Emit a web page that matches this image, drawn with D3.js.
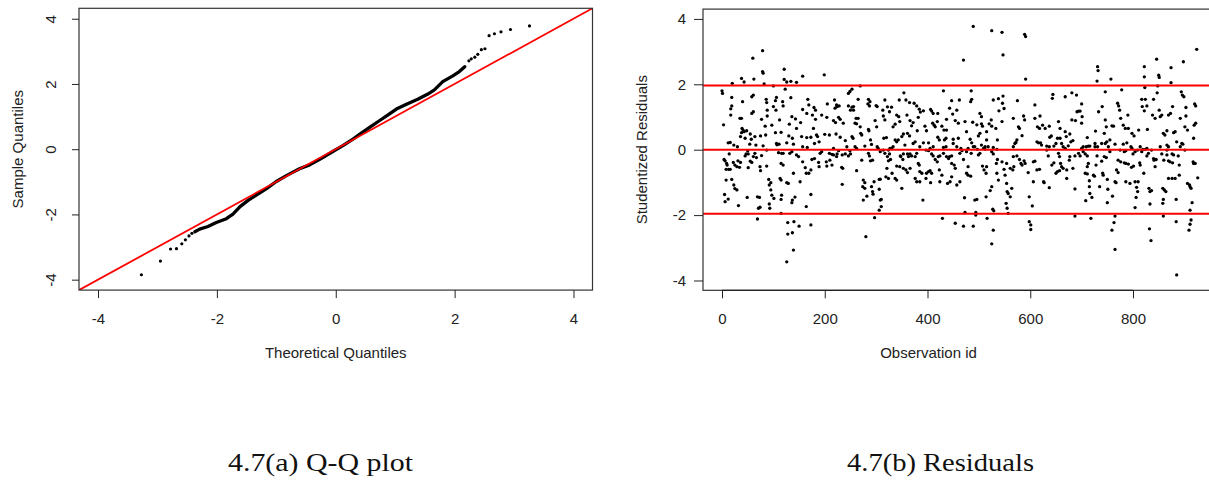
<!DOCTYPE html>
<html>
<head>
<meta charset="utf-8">
<script src="https://cdn.jsdelivr.net/npm/d3@7"></script>
<style>
  body { margin: 0; background: #fff; }
  svg text { font-family: "Liberation Sans", Arial, sans-serif; fill: #222; }
  svg text.caption { font-family: "Liberation Serif", "Times New Roman", serif; fill: #111; }
</style>
</head>
<body>
<div id="chart"></div>
<script>
// ---- Q-Q plot: [theoretical quantile, sample quantile] ----
// dense middle of the curve (read as a path through the dots)
const qqBody = [
  [-2.37, -2.53], [-2.29, -2.45], [-2.15, -2.37], [-2.01, -2.25], [-1.84, -2.13],
  [-1.73, -1.99], [-1.61, -1.76], [-1.47, -1.56], [-1.31, -1.38], [-1.16, -1.20],
  [-1.00, -0.99], [-0.83, -0.81], [-0.61, -0.60], [-0.44, -0.48], [-0.27, -0.31],
  [-0.05, -0.07], [0.12, 0.11], [0.29, 0.31], [0.43, 0.49], [0.57, 0.67],
  [0.74, 0.88], [0.88, 1.05], [1.02, 1.23], [1.19, 1.38], [1.38, 1.53],
  [1.55, 1.69], [1.66, 1.82], [1.80, 2.07], [1.97, 2.25], [2.08, 2.38], [2.17, 2.53]
];
// sparse tails, one dot each
const qqLowTail = [
  [-3.27, -3.85], [-2.95, -3.43], [-2.78, -3.06], [-2.68, -3.05],
  [-2.59, -2.90], [-2.53, -2.78], [-2.47, -2.66], [-2.42, -2.58]
];
const qqHighTail = [
  [2.24, 2.71], [2.28, 2.77], [2.34, 2.82], [2.39, 2.91], [2.45, 3.05], [2.51, 3.08],
  [2.58, 3.48], [2.67, 3.54], [2.78, 3.60], [2.94, 3.67], [3.26, 3.78]
];
const qqLine = { intercept: 0, slope: 1 };
const qqTicks = [-4, -2, 0, 2, 4];

// ---- Residuals: [observation id, studentized residual] ----
const residualsA = [
  [79,3.03],[60,2.80],[79,2.39],[80,2.34],[38,2.18],[62,2.16],[121,2.46],[121,2.15],[157,2.25],[20,2.03],
  [43,2.07],[82,2.01],[100,1.95],[126,2.07],[134,2.09],[145,2.06],[123,1.85],[0,1.80],[1,1.72],[19,1.60],
  [61,1.67],[58,1.62],[106,1.60],[104,1.50],[40,1.47],[86,1.54],[118,1.47],[134,1.59],[167,1.54],[179,1.29],
  [182,1.21],[87,1.44],[100,1.32],[19,1.34],[17,1.25],[35,0.96],[38,0.96],[58,1.11],[61,1.16],[88,1.21],
  [105,1.21],[157,1.23],[169,1.37],[176,1.06],[3,0.76],[17,1.06],[77,0.93],[88,1.03],[112,0.91],[119,1.34],
  [131,0.78],[143,0.94],[153,0.83],[97,0.75],[84,0.72],[178,0.65],[184,0.45],[186,0.40],[39,0.65],[41,0.60],
  [43,0.55],[38,0.52],[48,0.58],[55,0.48],[36,0.40],[45,0.35],[57,0.32],[64,0.40],[75,0.42],[85,0.45],
  [104,0.52],[115,0.53],[145,0.65],[155,0.40],[165,0.37],[173,0.38],[12,0.21],[16,0.22],[23,0.14],[30,0.09],
  [54,0.17],[66,0.14],[106,0.19],[107,0.15],[126,0.21],[139,0.17],[157,0.09],[166,0.07],[180,0.19],[189,0.24],
  [14,-0.13],[4,-0.30],[6,-0.34],[9,-0.42],[10,-0.47],[8,-0.60],[13,-0.60],[16,-0.60],[22,-0.39],[25,-0.47],
  [29,-0.52],[31,-0.34],[34,-0.54],[45,-0.19],[47,-0.13],[51,-0.13],[51,-0.55],[64,-0.11],[67,-0.24],[75,-0.64],
  [74,-0.52],[87,-0.50],[91,-0.91],[95,-1.01],[92,-1.08],[95,-1.23],[97,-1.39],[101,-1.49],[110,-0.09],[116,-0.11],
  [119,-0.11],[115,-0.42],[119,-0.47],[113,-0.88],[115,-0.93],[126,-1.01],[129,-1.03],[132,-0.11],[136,-0.06],[139,-0.72],
  [145,-0.16],[149,-0.21],[157,-0.37],[162,-0.55],[164,-0.72],[169,-0.72],[173,-0.62],[175,-0.30],[180,-0.27],[188,-0.39],
  [189,-0.52],[152,-0.98],[8,-0.93],[19,-0.91],[23,-1.08],[29,-1.23],[25,-1.19],[5,-1.37],[6,-1.59],[12,-1.51],
  [32,-1.71],[49,-1.46],[69,-1.44],[73,-1.46],[71,-1.79],[74,-1.76],[69,-2.12],[92,-1.66],[93,-1.79],[116,-1.39],
  [115,-1.52],[136,-1.62],[137,-1.54],[142,-1.45],[164,-1.74],[173,-1.37],[115,-1.95],[128,-2.23],[140,-2.20],[150,-2.34],
  [173,-2.30],[128,-2.58],[137,-2.54],[139,-3.07],[126,-3.43],[55,-0.35],[58,-0.39],[61,-0.21],[87,-0.01],[77,-0.18],
  [36,-0.39],[50,-0.03],[80,0.12],[111,0.17],[130,0.42],[137,0.35],[136,1.01],[165,1.11],[182,0.93]
];
const residualsB = [
  [199,2.29],[269,1.95],[253,1.85],[249,1.78],[246,1.72],[489,3.77],[525,3.64],[470,2.74],[431,1.80],[485,1.80],
  [354,1.74],[365,1.44],[447,1.50],[486,1.54],[484,1.47],[528,1.52],[538,1.56],[205,1.40],[219,1.52],[223,1.37],
  [228,1.34],[220,1.27],[224,1.32],[246,1.34],[253,1.30],[256,1.32],[250,1.21],[256,1.21],[265,1.54],[285,1.54],
  [288,1.47],[284,1.40],[287,1.34],[300,1.35],[302,1.32],[330,1.30],[384,1.24],[392,1.19],[408,1.18],[420,1.11],
  [449,1.09],[502,1.11],[505,1.01],[524,0.91],[539,1.19],[194,1.06],[204,0.99],[227,0.99],[230,0.93],[217,0.89],
  [221,0.83],[236,0.81],[261,0.96],[265,0.96],[259,0.81],[262,0.79],[269,0.70],[270,0.50],[272,0.45],[285,0.62],
  [286,0.58],[298,0.89],[301,0.70],[314,1.03],[317,0.91],[333,0.70],[337,0.78],[344,1.01],[346,0.86],[369,0.73],
  [372,0.83],[380,0.58],[382,0.99],[398,0.58],[410,0.81],[413,0.75],[415,0.70],[432,0.60],[437,0.60],[454,0.89],
  [460,0.81],[488,0.84],[505,0.79],[507,0.72],[520,0.79],[525,0.72],[533,0.65],[200,0.47],[209,0.45],[222,0.48],
  [230,0.38],[240,0.28],[253,0.40],[255,0.35],[289,0.30],[291,0.16],[315,0.35],[320,0.37],[337,0.30],[340,0.24],
  [343,0.30],[350,0.40],[353,0.48],[361,0.50],[365,0.42],[372,0.19],[376,0.24],[392,0.21],[402,0.21],[420,0.38],
  [423,0.30],[433,0.30],[436,0.35],[450,0.32],[460,0.35],[483,0.32],[486,0.21],[499,0.42],[502,0.50],[512,0.09],
  [515,0.30],[528,0.07],[536,0.30],[194,-0.06],[191,-0.11],[209,-0.11],[214,-0.14],[217,-0.16],[203,-0.37],[210,-0.32],
  [214,-0.47],[204,-0.50],[223,-0.21],[224,-0.13],[234,-0.16],[240,-0.13],[246,-0.19],[250,-0.13],[233,-0.54],[235,-0.57],
  [234,-1.06],[249,-0.03],[262,-0.64],[272,-0.32],[275,-0.93],[278,-1.01],[274,-1.13],[278,-1.18],[275,-1.54],[282,-1.42],
  [280,-2.66],[289,-0.34],[293,-0.32],[291,-1.13],[293,-1.28],[294,-1.36],[296,-0.98],[306,-0.91],[308,-0.90],[306,-1.21],
  [308,-1.54],[310,-1.52],[306,-1.85],[310,-1.74],[297,-2.08],[314,-0.01],[317,-0.11],[322,-0.21],[326,-0.13],[324,-0.34],
  [328,-0.30],[319,-0.83],[324,-0.88],[337,-0.88],[340,-0.93],[340,-0.50],[350,-1.18],[348,-0.21],[352,-0.30],[353,-0.57],
  [358,-0.62],[361,-0.70],[366,-0.13],[369,-0.19],[376,-0.88],[379,-0.98],[382,-0.42],[384,-0.47],[385,-0.67],[389,-0.72],
  [391,-1.54],[398,-0.72],[402,-0.67],[405,-0.64],[397,-0.88],[406,-1.01],[408,-0.13],[411,-0.19],[415,-0.30],[419,-0.37],
  [423,-0.62],[428,-0.78],[429,-2.10],[437,-0.21],[441,-0.27],[439,-1.03],[444,-0.98],[447,-0.42],[452,-0.47],[454,-0.57],
  [454,-2.25],[457,-1.08],[463,-0.11],[467,-0.03],[470,-0.30],[472,-1.47],[473,-1.92],[476,-0.72],[479,-0.78],[484,-0.81],
  [470,-2.34],[489,-2.34],[492,-1.54],[496,-1.52],[494,-1.92],[494,-2.00],[499,-0.16],[502,-0.11],[507,-0.50],[510,-0.62],
  [514,-0.72],[514,-1.44],[516,-2.10],[522,-1.25],[525,-1.13],[527,-1.82],[529,-1.87],[528,-2.46],[525,-2.88],[534,-0.42],
  [536,-0.30],[538,-0.93],[217,0.04],[227,-0.03],[243,0.09],[259,0.09],[262,0.04],[278,0.11],[285,-0.11],[287,-0.19],
  [302,0.09],[304,0.04],[324,-0.01],[327,0.04],[333,0.09],[347,-0.19],[353,-0.13],[361,-0.13],[363,-0.21],[376,-0.21],
  [385,0.09],[397,-0.01],[402,-0.03],[411,0.09],[421,-0.21],[424,-0.19],[431,0.07],[436,0.09],[443,-0.21],[447,-0.19],
  [457,0.09],[465,0.04],[479,0.04],[485,-0.11],[489,0.09],[492,0.09],[497,0.01],[509,0.04],[512,0.01],[518,0.09],
  [525,-0.06],[528,-0.13],[535,0.01],
  [317,1.52],[322,1.31],[313,1.21],[326,1.16],[340,1.06],[345,1.52],[358,1.52],[360,1.06],[366,0.89],[374,1.42],
  [379,1.34],[386,1.15],[395,0.72],[406,1.23],[411,1.11],[419,0.86],[428,0.72],[437,0.93],[443,1.27],[457,1.21],
  [462,1.52],[473,0.86],[476,0.55],[496,0.76],[515,0.55],[321,-0.57],[331,-0.72],[346,-0.52],[366,-0.57],[385,-0.98],
  [408,-0.72],[424,-0.98],[447,-0.83],[463,-0.98],[479,-0.52],[515,-0.52],[535,-0.72],[308,-0.06],[330,0.04],[356,0.14],
  [379,-0.11],[405,0.04],[431,-0.11],[450,0.19],[476,-0.06],[505,0.14]
];
const residualsC = [
  [545,3.59],[547,2.90],[589,3.53],[591,3.46],[591,2.16],[731,2.54],[732,2.42],[730,2.10],[757,2.16],[822,2.54],
  [822,2.23],[846,2.77],[874,2.51],[874,2.05],[898,2.69],[924,3.07],[850,2.28],[851,2.21],[848,1.95],[847,1.74],
  [823,1.90],[817,1.54],[824,1.54],[818,1.32],[827,1.34],[822,1.19],[840,1.54],[778,1.83],[746,1.77],[740,1.32],
  [733,1.16],[681,1.74],[690,1.67],[668,1.62],[644,1.69],[643,1.57],[609,1.37],[575,1.50],[547,1.64],[546,1.42],
  [549,1.26],[545,0.86],[567,0.96],[577,0.70],[579,0.65],[587,1.03],[589,0.91],[574,0.30],[572,0.22],[584,0.43],
  [567,0.09],[570,0.19],[609,0.96],[619,1.03],[614,0.70],[618,0.65],[624,0.75],[629,0.65],[637,0.72],[613,0.24],
  [616,0.21],[620,0.21],[622,0.14],[632,0.11],[637,0.09],[638,0.38],[641,0.42],[646,0.11],[650,0.19],[655,0.86],
  [658,0.65],[653,0.35],[658,0.35],[668,0.55],[670,0.40],[677,0.48],[681,0.91],[688,0.89],[691,1.16],[694,1.18],
  [697,1.18],[700,1.40],[701,1.01],[700,0.81],[679,0.24],[674,0.12],[683,0.28],[661,0.19],[664,0.09],[668,0.04],
  [711,0.37],[709,0.09],[713,0.11],[727,0.57],[726,0.19],[731,0.09],[746,0.91],[748,0.70],[744,0.50],[739,0.19],
  [746,0.19],[749,0.24],[759,0.73],[762,0.72],[755,0.30],[770,1.42],[772,1.34],[774,1.21],[776,0.96],[781,0.75],
  [785,0.65],[790,1.06],[791,0.65],[798,0.50],[802,0.42],[781,0.17],[788,0.21],[798,0.04],[800,-0.13],[811,0.60],
  [814,0.09],[819,0.01],[828,0.62],[824,0.01],[827,0.04],[838,1.06],[843,0.96],[851,1.21],[853,1.01],[856,1.06],
  [859,0.50],[862,0.45],[866,0.58],[869,1.06],[873,1.11],[877,1.32],[866,0.14],[869,0.09],[879,0.52],[882,0.55],
  [885,0.24],[892,0.96],[895,0.19],[897,0.17],[894,1.77],[896,1.67],[899,1.62],[903,1.29],[903,1.03],[901,0.70],
  [906,0.60],[920,1.40],[922,1.34],[919,0.75],[922,0.81],[918,0.35],[567,-0.21],[574,-0.19],[579,-0.30],[582,-0.42],
  [584,-0.47],[588,-0.34],[590,-0.42],[596,-0.70],[606,-0.37],[609,-0.35],[613,-0.62],[618,-0.60],[626,-0.98],[627,-1.01],
  [637,-1.16],[642,-0.47],[646,-0.40],[650,-0.72],[653,-0.67],[657,-0.64],[659,-0.42],[661,-0.52],[664,-0.57],[671,-0.88],
  [671,-0.62],[683,-0.57],[677,-0.21],[676,-0.32],[694,-0.11],[697,-0.19],[687,-1.20],[687,-2.03],[703,-0.06],[707,-0.13],
  [711,-0.19],[713,-0.42],[711,-0.52],[707,-0.72],[711,-0.74],[715,-0.95],[715,-1.13],[716,-1.34],[720,-1.46],[708,-1.56],
  [718,-2.10],[726,0.09],[730,-0.19],[728,-0.47],[723,-0.78],[725,-0.81],[735,-1.13],[739,-0.35],[741,-0.72],[742,-0.78],
  [744,-0.21],[748,-0.24],[750,-0.91],[751,-1.21],[750,-1.62],[760,-1.42],[765,-0.98],[767,-1.01],[768,-0.62],[771,-0.70],
  [765,-2.03],[763,-2.23],[759,-2.46],[765,-3.05],[771,-0.32],[776,-0.37],[783,-0.40],[786,-0.42],[791,-0.44],[786,-0.98],
  [794,-1.03],[797,-0.54],[801,-0.50],[804,-0.98],[810,-0.98],[807,-1.15],[809,-1.28],[806,-1.46],[804,-1.77],[813,-0.40],
  [814,-0.47],[821,-0.72],[827,-0.19],[830,-0.11],[831,-1.18],[833,-1.28],[836,-1.25],[833,-1.66],[832,-2.42],[835,-2.78],
  [840,-0.27],[841,-0.32],[843,-0.52],[856,-0.13],[860,-0.32],[858,-1.18],[861,-1.23],[864,-1.28],[858,-1.64],[859,-1.52],
  [859,-2.03],[869,-0.88],[876,-0.88],[866,-0.16],[869,-0.34],[872,-0.37],[877,-0.40],[879,-0.16],[882,-0.88],[884,-1.52],
  [884,-2.20],[885,-3.83],[888,-0.19],[890,-0.47],[890,-0.78],[906,-1.03],[910,-1.08],[911,-1.13],[913,-1.18],[915,-1.62],
  [911,-1.85],[913,-2.15],[911,-2.28],[909,-2.46],[917,-0.37],[918,-0.42],[926,-0.86],[554,-0.42],[545,-0.37],[549,-0.60],
  [551,-0.78],[554,-1.03],[555,-1.28],[557,-1.34],[561,-1.44],[553,-1.64],[555,-1.79],[557,-1.95],[564,-1.18],[561,-0.57],
  [566,-0.62],[568,-0.52],[598,-2.20],[601,-2.30],[601,-2.44],[606,-0.98],[598,-1.44],[604,-1.72],[632,-0.01],[635,-0.19],
  [655,-0.11],[657,-0.21],[687,-0.19],[700,0.04],[703,0.09],[716,0.11],[752,0.09],[755,-0.06],[765,0.17],[775,-0.01],
  [783,-0.06],[786,-0.03],[796,0.09],[804,-0.06],[809,-0.01],[817,-0.06],[836,-0.01],[845,-0.30],[853,0.09],[866,-0.01],
  [876,-0.13],[892,0.09],[901,-0.01],[921,-0.42]
];
const resTicksX = [0, 200, 400, 600, 800];
const resTicksY = [-4, -2, 0, 2, 4];
const refLines = [-1.96, 0, 1.96];
const captions = ["4.7(a) Q-Q plot", "4.7(b) Residuals"];

const width = 1209, height = 481;
const svg = d3.select("#chart").append("svg")
  .attr("width", width).attr("height", height)
  .attr("viewBox", [0, 0, width, height]);

const ink = "#222", boxColor = "#333";

// ---------------- left panel: Q-Q plot ----------------
const qx = d3.scaleLinear().domain([-4.32, 4.32]).range([79, 592.5]);
const qy = d3.scaleLinear().domain([-4.32, 4.32]).range([290.1, 8.3]);

svg.append("clipPath").attr("id", "clipQ")
  .append("rect").attr("x", 79).attr("y", 8.3).attr("width", 513.5).attr("height", 281.8);

const gq = svg.append("g");
const qPlot = gq.append("g").attr("clip-path", "url(#clipQ)");

qPlot.append("path")
  .datum(qqBody)
  .attr("fill", "none")
  .attr("stroke", "#000")
  .attr("stroke-width", 3.3)
  .attr("stroke-linejoin", "round")
  .attr("stroke-linecap", "round")
  .attr("d", d3.line().x(d => qx(d[0])).y(d => qy(d[1])));

qPlot.append("g")
  .selectAll("circle")
  .data(qqLowTail.concat(qqHighTail))
  .join("circle")
  .attr("cx", d => qx(d[0]))
  .attr("cy", d => qy(d[1]))
  .attr("r", 1.6)
  .attr("fill", "#000");

const qd = qx.domain();
qPlot.append("line")
  .attr("x1", qx(qd[0])).attr("y1", qy(qqLine.intercept + qqLine.slope * qd[0]))
  .attr("x2", qx(qd[1])).attr("y2", qy(qqLine.intercept + qqLine.slope * qd[1]))
  .attr("stroke", "#ff0000")
  .attr("stroke-width", 1.8);

gq.append("rect")
  .attr("x", 79).attr("y", 8.3).attr("width", 513.5).attr("height", 281.8)
  .attr("fill", "none").attr("stroke", boxColor).attr("stroke-width", 1.2);

// x axis
const qxAxis = gq.append("g")
  .attr("transform", "translate(0,290.1)")
  .call(d3.axisBottom(qx).tickValues(qqTicks).tickSize(8).tickPadding(15).tickFormat(d => String(d)))
  .attr("color", ink)
  .attr("font-size", 15)
  .attr("font-family", null);
qxAxis.select(".domain").remove();

// y axis (labels parallel to axis)
const qyAxis = gq.append("g")
  .attr("transform", "translate(79,0)")
  .call(d3.axisLeft(qy).tickValues(qqTicks).tickSize(7).tickFormat(d => String(d)))
  .attr("color", ink)
  .attr("font-size", 15)
  .attr("font-family", null);
qyAxis.select(".domain").remove();
qyAxis.selectAll("text")
  .attr("x", null).attr("dy", null)
  .attr("text-anchor", "middle")
  .attr("transform", "translate(-23,0) rotate(-90)");

gq.append("text")
  .attr("x", qx(0)).attr("y", 358)
  .attr("text-anchor", "middle")
  .attr("font-size", 15)
  .text("Theoretical Quantiles");

gq.append("text")
  .attr("transform", `translate(22.5,${qy(0)}) rotate(-90)`)
  .attr("text-anchor", "middle")
  .attr("font-size", 15)
  .text("Sample Quantiles");

// ---------------- right panel: residuals ----------------
const rx = d3.scaleLinear().domain([-37, 988]).range([703, 1229.6]);
const ry = d3.scaleLinear().domain([-4.3, 4.3]).range([290.3, 9.1]);

svg.append("clipPath").attr("id", "clipR")
  .append("rect").attr("x", 703).attr("y", 9.1).attr("width", 526.6).attr("height", 281.2);

const gr = svg.append("g");
const rPlot = gr.append("g").attr("clip-path", "url(#clipR)");

rPlot.append("g")
  .selectAll("circle")
  .data(residualsA.concat(residualsB, residualsC))
  .join("circle")
  .attr("cx", d => rx(d[0]))
  .attr("cy", d => ry(d[1]))
  .attr("r", 1.65)
  .attr("fill", "#000");

rPlot.append("g")
  .selectAll("line")
  .data(refLines)
  .join("line")
  .attr("x1", 703).attr("x2", 1229.6)
  .attr("y1", d => ry(d)).attr("y2", d => ry(d))
  .attr("stroke", "#ff0000")
  .attr("stroke-width", 2);

gr.append("rect")
  .attr("x", 703).attr("y", 9.1).attr("width", 526.6).attr("height", 281.2)
  .attr("fill", "none").attr("stroke", boxColor).attr("stroke-width", 1.2);

const rxAxis = gr.append("g")
  .attr("transform", "translate(0,290.3)")
  .call(d3.axisBottom(rx).tickValues(resTicksX).tickSize(8).tickPadding(15).tickFormat(d => String(d)))
  .attr("color", ink)
  .attr("font-size", 15)
  .attr("font-family", null);
rxAxis.select(".domain").remove();
rxAxis.append("line")
  .attr("x1", rx(resTicksX[0])).attr("x2", rx(resTicksX[resTicksX.length - 1]))
  .attr("stroke", ink).attr("stroke-width", 1.2);

const ryAxis = gr.append("g")
  .attr("transform", "translate(703,0)")
  .call(d3.axisLeft(ry).tickValues(resTicksY).tickSize(9).tickPadding(8).tickFormat(d => String(d)))
  .attr("color", ink)
  .attr("font-size", 15)
  .attr("font-family", null);
ryAxis.select(".domain").remove();

gr.append("text")
  .attr("x", rx(400) + 1).attr("y", 358)
  .attr("text-anchor", "middle")
  .attr("font-size", 15)
  .text("Observation id");

gr.append("text")
  .attr("transform", `translate(646.5,${ry(0)}) rotate(-90)`)
  .attr("text-anchor", "middle")
  .attr("font-size", 15)
  .text("Studentized Residuals");

// ---------------- captions ----------------
svg.selectAll("text.caption")
  .data(captions)
  .join("text")
  .attr("class", "caption")
  .attr("x", (d, i) => [228, 847][i])
  .attr("y", 471)
  .attr("font-size", 26)
  .attr("textLength", (d, i) => [185, 187][i])
  .attr("lengthAdjust", "spacingAndGlyphs")
  .text(d => d);
</script>
</body>
</html>
